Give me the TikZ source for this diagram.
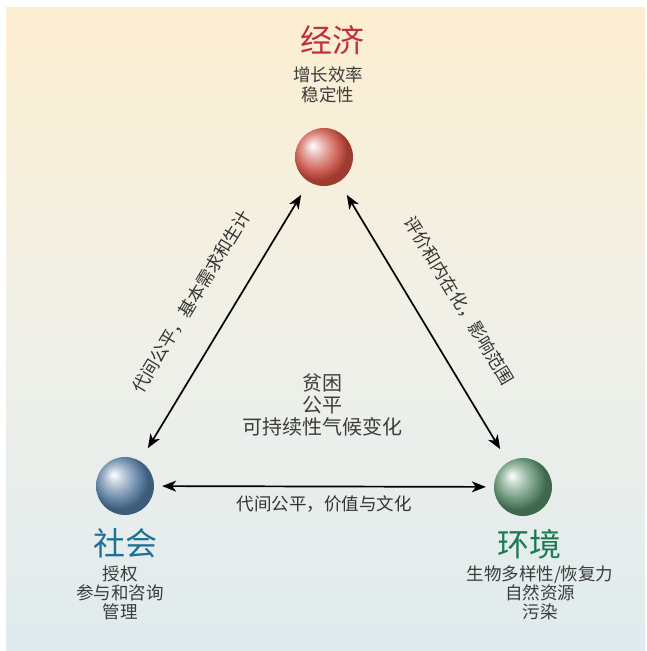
\documentclass[tikz,border=0pt]{standalone}
\usepackage{fontspec}
\newfontfamily\cjk{Noto Sans CJK SC}
\usetikzlibrary{arrows.meta}

\definecolor{bgtop}{HTML}{FCEED0}
\definecolor{bgmid}{HTML}{F0F0E8}
\definecolor{bgbot}{HTML}{E0EBEE}
\definecolor{ecored}{HTML}{C7483B}
\definecolor{socblue}{HTML}{4D7399}
\definecolor{envgreen}{HTML}{4E8260}
\definecolor{ecotxt}{HTML}{C0303C}
\definecolor{soctxt}{HTML}{1F7096}
\definecolor{envtxt}{HTML}{1B7A52}
\definecolor{subtxt}{HTML}{3C3C3C}

% spheres: white highlight up left, darker rim
\pgfdeclareradialshading{ecoball}{\pgfpoint{-10bp}{10bp}}{color(0bp)=(white); color(9bp)=(ecored!45!white); color(18bp)=(ecored!85!white); color(25bp)=(ecored!80!black); color(50bp)=(ecored!80!black)}
\pgfdeclareradialshading{socball}{\pgfpoint{-10bp}{10bp}}{color(0bp)=(white); color(9bp)=(socblue!45!white); color(18bp)=(socblue!85!white); color(25bp)=(socblue!80!black); color(50bp)=(socblue!80!black)}
\pgfdeclareradialshading{envball}{\pgfpoint{-10bp}{10bp}}{color(0bp)=(white); color(9bp)=(envgreen!45!white); color(18bp)=(envgreen!85!white); color(25bp)=(envgreen!80!black); color(50bp)=(envgreen!80!black)}

\tikzset{
  sphere/.style={circle, minimum size=58pt, inner sep=0pt},
  title/.style={font=\cjk\fontsize{32}{36}\selectfont},
  sub/.style={font=\cjk\fontsize{17.5}{19}\selectfont, align=center, text=subtxt},
  biarrow/.style={line width=1.7pt, {Stealth[length=14pt,width=11pt,inset=4pt]}-{Stealth[length=14pt,width=11pt,inset=4pt]}},
  edgelabel/.style={font=\cjk\fontsize{17.5}{19}\selectfont, text=black!80}
}

\begin{document}
\begin{tikzpicture}[x=1pt, y=1pt]

    \useasboundingbox (0,0) rectangle (647,651);
    \shade[top color=bgtop, bottom color=bgbot, middle color=bgmid] (6,0) rectangle (645,643);

    \node[sphere, shading=ecoball] (eco) at (324,494) {};
    \node[sphere, shading=socball] (soc) at (125,165) {};
    \node[sphere, shading=envball] (env) at (523,164) {};

    \node[title, text=ecotxt] (econame) at (332,611) {经济};
    \node[sub, font=\cjk\fontsize{17.5}{20}\selectfont] (ecolist) at (328,566) {增长效率\\稳定性};

    \node[title, text=soctxt] (socname) at (125,108) {社会};
    \node[sub] (soclist) at (120,58) {授权\\参与和咨询\\管理};

    \node[title, text=envtxt] (envname) at (529,107) {环境};
    \node[sub] (envlist) at (540,58) {生物多样性/恢复力\\自然资源\\污染};

    \node[sub, font=\cjk\fontsize{20}{22}\selectfont] (core) at (322,246) {贫困\\公平\\可持续性气候变化};

    \draw[biarrow, shorten <=15pt, shorten >=15pt] (soc) -- (eco)
      node[midway, sloped, above=26pt, edgelabel] {代间公平，基本需求和生计};
    \draw[biarrow, shorten <=15pt, shorten >=15pt] (eco) -- (env)
      node[midway, sloped, above=29pt, edgelabel] {评价和内在化，影响范围};
    \draw[biarrow, shorten <=8pt, shorten >=8pt] (soc) -- (env)
      node[midway, below=5pt, edgelabel] {代间公平，价值与文化};

  \end{tikzpicture}
\end{document}
